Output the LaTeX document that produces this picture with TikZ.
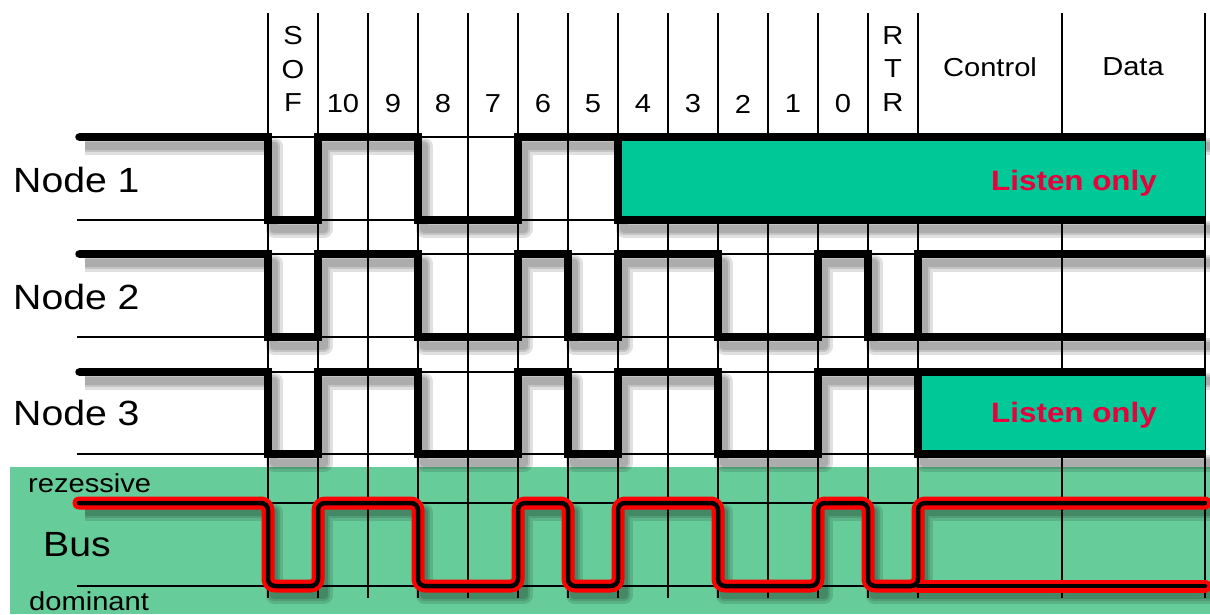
\documentclass[tikz,border=0pt]{standalone}
\usepackage{fontspec}
\setmainfont[FakeStretch=1.12]{Liberation Sans}
\definecolor{listen}{HTML}{00C896}
\definecolor{busbg}{HTML}{66CC99}
\definecolor{lred}{HTML}{E8003C}
\tikzset{
  grid line/.style={black, line width=1.3pt},
  thin level/.style={black, line width=1.3pt},
  sigline/.style={black, line width=7.5pt, line join=miter},
  shadowline/.style={black, opacity=0.12, line join=round, xshift=6pt, yshift=-9pt},
  busred/.style={red, line width=13pt, rounded corners=7pt, line cap=round, line join=round},
  busblack/.style={black, line width=4.5pt, rounded corners=7pt, line cap=round, line join=round},
  head/.style={font=\fontsize{26}{33.5}\selectfont, align=center, inner sep=0pt},
  rowlabel/.style={font=\fontsize{35}{40}\selectfont, anchor=west, inner sep=0pt},
  smalllabel/.style={font=\fontsize{26}{30}\selectfont, anchor=base west, inner sep=0pt},
  listentext/.style={font=\bfseries\fontsize{28}{30}\selectfont, text=lred, inner sep=0pt},
}
\newcommand{\shadowed}[1]{%
  \draw[shadowline, line width=17pt] #1;
  \draw[shadowline, line width=12pt] #1;
  \draw[shadowline, line width=8pt] #1;
}
\begin{document}
\begin{tikzpicture}[x=1pt, y=-1pt]
\useasboundingbox (0,0) rectangle (1210,614);
\fill[white] (0,0) rectangle (1210,614);
% bus background
\fill[busbg] (10,467) rectangle (1210,614);

% shadows of signals
\shadowed{(79,137) -- (268,137) -- (268,220) -- (318,220) -- (318,137) -- (418,137) -- (418,220) -- (518,220) -- (518,137) -- (1205,137) (618,137) -- (618,220) -- (1205,220)}
\shadowed{(79,254) -- (268,254) -- (268,337) -- (318,337) -- (318,254) -- (418,254) -- (418,337) -- (518,337) -- (518,254) -- (568,254) -- (568,337) -- (618,337) -- (618,254) -- (718,254) -- (718,337) -- (818,337) -- (818,254) -- (868,254) -- (868,337) -- (918,337) -- (918,254) -- (1205,254) (918,337) -- (1205,337)}
\shadowed{(79,372) -- (268,372) -- (268,454) -- (318,454) -- (318,372) -- (418,372) -- (418,454) -- (518,454) -- (518,372) -- (568,372) -- (568,454) -- (618,454) -- (618,372) -- (718,372) -- (718,454) -- (818,454) -- (818,372) -- (1205,372) (918,372) -- (918,454) -- (1205,454)}
\shadowed{(79,503) -- (268,503) -- (268,586) -- (318,586) -- (318,503) -- (418,503) -- (418,586) -- (518,586) -- (518,503) -- (568,503) -- (568,586) -- (618,586) -- (618,503) -- (718,503) -- (718,586) -- (818,586) -- (818,503) -- (868,503) -- (868,586) -- (918,586) -- (918,503) -- (1205,503) (918,586) -- (1205,586)}

% vertical grid lines
\foreach \x in {268,318,...,918,1062,1205} {
  \draw[grid line] (\x,13) -- (\x,598);
}
% thin level lines
\foreach \y in {137,220,254,337,372,454,503,586} {
  \draw[thin level] (77,\y) -- (1205,\y);
}

% listen-only boxes
\fill[listen] (618,137) rectangle (1205,220);
\fill[listen] (918,372) rectangle (1205,454);

% header
\node[head] (sof) at (293,69) {S\\O\\F};
\node[head] (rtr) at (893,69) {R\\T\\R};
\foreach \n/\lab in {10/10,9/9,8/8,7/7,6/6,5/5,4/4,3/3,2/2,1/1,0/0} {
  \pgfmathsetmacro{\cx}{843-50*\n}
  \node[head] (b\n) at (\cx,104) {\lab};
}
\node[head] (control) at (990,67) {Control};
\node[head] (data) at (1133,67) {Data};

% row labels
\node[rowlabel] (n1) at (13,180) {Node 1};
\node[rowlabel] (n2) at (13,297) {Node 2};
\node[rowlabel] (n3) at (13,413) {Node 3};
\node[smalllabel] (rez) at (28,492) {rezessive};
\node[rowlabel] (bus) at (43,545) {Bus};
\node[smalllabel] (dom) at (29,610) {dominant};

% signals
\draw[sigline] (79,137) -- (268,137) -- (268,220) -- (318,220) -- (318,137) -- (418,137) -- (418,220) -- (518,220) -- (518,137) -- (1205,137);
\draw[sigline] (618,137) -- (618,220) -- (1205,220);
\draw[sigline] (79,254) -- (268,254) -- (268,337) -- (318,337) -- (318,254) -- (418,254) -- (418,337) -- (518,337) -- (518,254) -- (568,254) -- (568,337) -- (618,337) -- (618,254) -- (718,254) -- (718,337) -- (818,337) -- (818,254) -- (868,254) -- (868,337) -- (918,337) -- (918,254) -- (1205,254);
\draw[sigline] (918,337) -- (1205,337);
\draw[sigline] (79,372) -- (268,372) -- (268,454) -- (318,454) -- (318,372) -- (418,372) -- (418,454) -- (518,454) -- (518,372) -- (568,372) -- (568,454) -- (618,454) -- (618,372) -- (718,372) -- (718,454) -- (818,454) -- (818,372) -- (1205,372);
\draw[sigline] (918,372) -- (918,454) -- (1205,454);
% round left ends
\foreach \y in {137,254,372} { \fill (79,\y) circle (3.75pt); }

% bus signal
\foreach \st in {busred,busblack} {
  \draw[\st] (79,503) -- (268,503) -- (268,586) -- (318,586) -- (318,503) -- (418,503) -- (418,586) -- (518,586) -- (518,503) -- (568,503) -- (568,586) -- (618,586) -- (618,503) -- (718,503) -- (718,586) -- (818,586) -- (818,503) -- (868,503) -- (868,586) -- (918,586) -- (918,503) -- (1205,503);
  \draw[\st] (918,586) -- (1205,586);
}

% listen only labels
\node[listentext] (l1) at (1074,183) {Listen only};
\node[listentext] (l3) at (1074,415) {Listen only};
\end{tikzpicture}
\end{document}
